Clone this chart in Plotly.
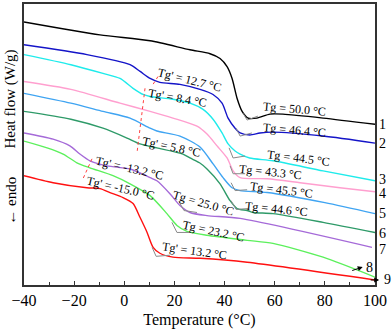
import plotly.graph_objects as go

# DSC heat flow curves (arbitrary offset units)
temp_1 = [-40, -9.7, 10.3, 26.2, 34.2, 38.2, 41, 43, 45, 47, 49.4, 52.9, 58.1, 63.3, 79.3, 100]
hf_1 = [9.36, 8.90, 8.69, 8.37, 8.23, 8.06, 7.77, 7.35, 6.64, 6.18, 5.94, 5.94, 6.08, 6.08, 5.94, 5.72]

temp_2 = [-40, -14.9, 2.3, 6.3, 10.3, 14.2, 22.2, 30.2, 35.4, 39, 41.4, 44.2, 46.2, 50.1, 54.1, 59.3, 79.3, 100]
hf_2 = [8.55, 8.20, 7.84, 7.60, 7.35, 7.21, 7.14, 6.96, 6.78, 6.47, 5.94, 5.58, 5.41, 5.34, 5.41, 5.44, 5.30, 5.05]

temp_3 = [-40, -21.3, -8.5, -1.7, 3.5, 7.5, 10.3, 19.4, 26.2, 31.4, 35.4, 39, 41.4, 44.2, 46.2, 50, 59.3, 79.3, 100]
hf_3 = [8.20, 7.84, 7.53, 7.35, 7.00, 6.78, 6.71, 6.61, 6.47, 6.25, 5.90, 5.41, 5.02, 4.77, 4.66, 4.52, 4.42, 4.06, 3.71]

temp_4 = [-40, -21.3, -1.7, 10.3, 19.4, 29, 33, 37, 41, 43.4, 46.2, 57, 70.1, 86, 100]
hf_4 = [7.24, 6.96, 6.47, 6.18, 5.94, 5.65, 5.37, 4.95, 4.52, 4.06, 3.82, 3.78, 3.64, 3.46, 3.32]

temp_5 = [-40, -21.3, -8.5, 2.3, 10.3, 13, 22.2, 30.2, 35.4, 39.4, 43, 46.2, 57, 80, 100]
hf_5 = [6.82, 6.47, 6.18, 5.94, 5.58, 5.48, 5.30, 4.91, 4.31, 3.82, 3.46, 3.36, 3.29, 2.93, 2.54]

temp_6 = [-40, -21.3, -8.5, 1.1, 6.3, 13, 23.4, 26.2, 30, 33, 38.2, 42.2, 45, 49, 51.4, 59.3, 79.3, 100]
hf_6 = [6.18, 5.90, 5.58, 5.23, 5.02, 4.88, 4.66, 4.52, 4.35, 4.13, 3.60, 3.00, 2.72, 2.65, 2.58, 2.54, 2.23, 1.87]

temp_7 = [-40, -28.4, -21.7, -17.7, -13.7, -6.9, 2.3, 6.3, 10.3, 13, 18.2, 22.2, 26.2, 33, 46.2, 98.8]
hf_7 = [5.41, 5.19, 4.95, 4.66, 4.42, 4.24, 4.13, 3.99, 3.82, 3.71, 3.25, 2.83, 2.58, 2.47, 2.37, 1.34]

temp_8 = [-40, -30.8, -24.4, -18.9, -13.7, -4.5, 2.3, 10.3, 17, 21, 25, 33, 49, 59.3, 79.3, 100]
hf_8 = [5.12, 4.88, 4.66, 4.35, 4.17, 3.89, 3.60, 3.18, 2.54, 2.12, 1.91, 1.77, 1.59, 1.48, 0.99, 0.28]

temp_9 = [-40, -28.4, -14.9, -9.7, -5.7, -0.5, 3.5, 6.3, 9.1, 11.5, 14.2, 19.4, 30.2, 49, 100]
hf_9 = [3.89, 3.64, 3.46, 3.43, 3.29, 3.11, 2.90, 2.40, 1.87, 1.34, 1.13, 0.99, 0.95, 0.81, 0.18]

curves = [
    (temp_1, hf_1, "#000000"),
    (temp_2, hf_2, "#1414C8"),
    (temp_3, hf_3, "#1EEBEB"),
    (temp_4, hf_4, "#FF9FCF"),
    (temp_5, hf_5, "#3FA4F2"),
    (temp_6, hf_6, "#2E9A68"),
    (temp_7, hf_7, "#A56AD8"),
    (temp_8, hf_8, "#5CF05C"),
    (temp_9, hf_9, "#FF1010"),
]

# gray onset tangents (3 points each)
tan_temp = [[47.4, 49.0, 53.3], [44.6, 46.2, 50.9], [41.8, 43.4, 48.2], [42.2, 43.4, 48.2],
            [42.6, 44.2, 49.0], [42.6, 44.6, 49.4], [21.8, 23.8, 29.0], [19.0, 21.0, 26.2],
            [11.1, 12.7, 18.2]]
tan_hf = [[6.11, 5.87, 6.01], [5.58, 5.30, 5.41], [4.88, 4.52, 4.59], [4.24, 3.96, 3.96],
          [3.64, 3.36, 3.39], [3.00, 2.69, 2.72], [2.97, 2.65, 2.58], [2.23, 1.87, 1.87],
          [1.34, 1.02, 1.06]]

# red dotted Tg' markers
dot_temp = [[13.45, 11.46], [8.27, 5.07], [-12.88, -16.47]]
dot_hf = [[7.42, 7.14], [7.00, 4.70], [4.49, 3.78]]

# Tg labels: text, x, y, angle
tg_text = ["Tg = 50.0 °C", "Tg = 46.4 °C", "Tg = 44.5 °C", "Tg = 43.3 °C", "Tg = 45.5 °C",
           "Tg = 44.6 °C", "Tg = 25.0 °C", "Tg = 23.2 °C", "Tg' = 13.2 °C", "Tg' = 12.7 °C",
           "Tg' = 8.4 °C", "Tg' = 5.8 °C", "Tg' = -13.2 °C", "Tg' = -15.0 °C"]
tg_x = [67.7, 67.7, 69.3, 58.5, 62.9, 60.9, 31.4, 35.4, 28.2, 26.2, 21.4, 19.0, 1.9, -1.7]
tg_y = [6.25, 5.51, 4.52, 4.03, 3.39, 2.72, 2.93, 1.91, 1.20, 7.28, 6.64, 4.91, 4.17, 3.46]
tg_angle = [5, 5, 7, 6, 7, 6, 16, 12, 8, 14, 10, 12, 13, 13]

# curve numbers at the right (x in paper units, y in data units)
num_text = ["1", "2", "3", "4", "5", "6", "7", "8", "9"]
num_x = [1.02, 1.02, 1.022, 1.022, 1.022, 1.022, 1.022, 0.983, 1.035]
num_y = [5.72, 5.02, 3.77, 3.27, 2.54, 1.84, 1.27, 0.64, 0.18]

fig = go.Figure()

for t, h, c in curves:
    fig.add_trace(go.Scatter(x=t, y=h, mode="lines", line=dict(color=c, width=1.4, shape="spline", smoothing=0.7),
                             showlegend=False, hoverinfo="skip"))

for t, h in zip(tan_temp, tan_hf):
    fig.add_trace(go.Scatter(x=t, y=h, mode="lines", line=dict(color="#8a8a8a", width=1),
                             showlegend=False, hoverinfo="skip"))

for t, h in zip(dot_temp, dot_hf):
    fig.add_trace(go.Scatter(x=t, y=h, mode="lines", line=dict(color="#FF4040", width=1, dash="dot"),
                             showlegend=False, hoverinfo="skip"))

serif = "Liberation Serif, Times New Roman, serif"

for s, x, y, a in zip(tg_text, tg_x, tg_y, tg_angle):
    fig.add_annotation(x=x, y=y, text=s, showarrow=False, textangle=a,
                       font=dict(family=serif, size=12, color="black"))

for s, x, y in zip(num_text, num_x, num_y):
    fig.add_annotation(xref="paper", x=x, y=y, text=s, showarrow=False,
                       xanchor="center", yanchor="middle",
                       font=dict(family=serif, size=14, color="black"))

# small arrows near labels 8 and 9
fig.add_annotation(xref="paper", x=0.965, y=0.64, ax=-12, ay=4, text="", showarrow=True,
                   arrowhead=2, arrowsize=1, arrowwidth=1, arrowcolor="black")
fig.add_annotation(xref="paper", x=1.012, y=0.18, ax=-10, ay=0, text="", showarrow=True,
                   arrowhead=2, arrowsize=1, arrowwidth=1, arrowcolor="black")

# y-axis titles
fig.add_annotation(xref="paper", yref="paper", x=-0.037, y=0.66, text="Heat flow (W/g)",
                   xanchor="center", yanchor="middle", showarrow=False, textangle=-90,
                   font=dict(family=serif, size=15, color="black"))
fig.add_annotation(xref="paper", yref="paper", x=-0.037, y=0.30, text="\u2190 endo",
                   xanchor="center", yanchor="middle", showarrow=False, textangle=-90,
                   font=dict(family=serif, size=15, color="black"))

fig.update_xaxes(range=[-40, 100], dtick=20, showgrid=False, zeroline=False,
                 showline=True, linecolor="#333", linewidth=1.5, mirror=True,
                 ticks="inside", ticklen=4, tickcolor="#333",
                 minor=dict(dtick=10, ticks="inside", ticklen=3, tickcolor="#333"),
                 tickfont=dict(family=serif, size=16, color="black"),
                 title=dict(text="Temperature (°C)", font=dict(family=serif, size=16, color="black"), standoff=6))
fig.update_yaxes(range=[0, 10], showgrid=False, zeroline=False, showticklabels=False,
                 showline=True, linecolor="#333", linewidth=1.5, mirror=True, ticks="")

fig.update_layout(width=392, height=332, margin=dict(l=24, r=17, t=2, b=47),
                  plot_bgcolor="white", paper_bgcolor="white")

# the page body has a default 8px margin; remove it so the figure sits at the window corner
fig.write_html("out.html", config={"displayModeBar": False},
               post_script="document.body.style.margin='0';")
